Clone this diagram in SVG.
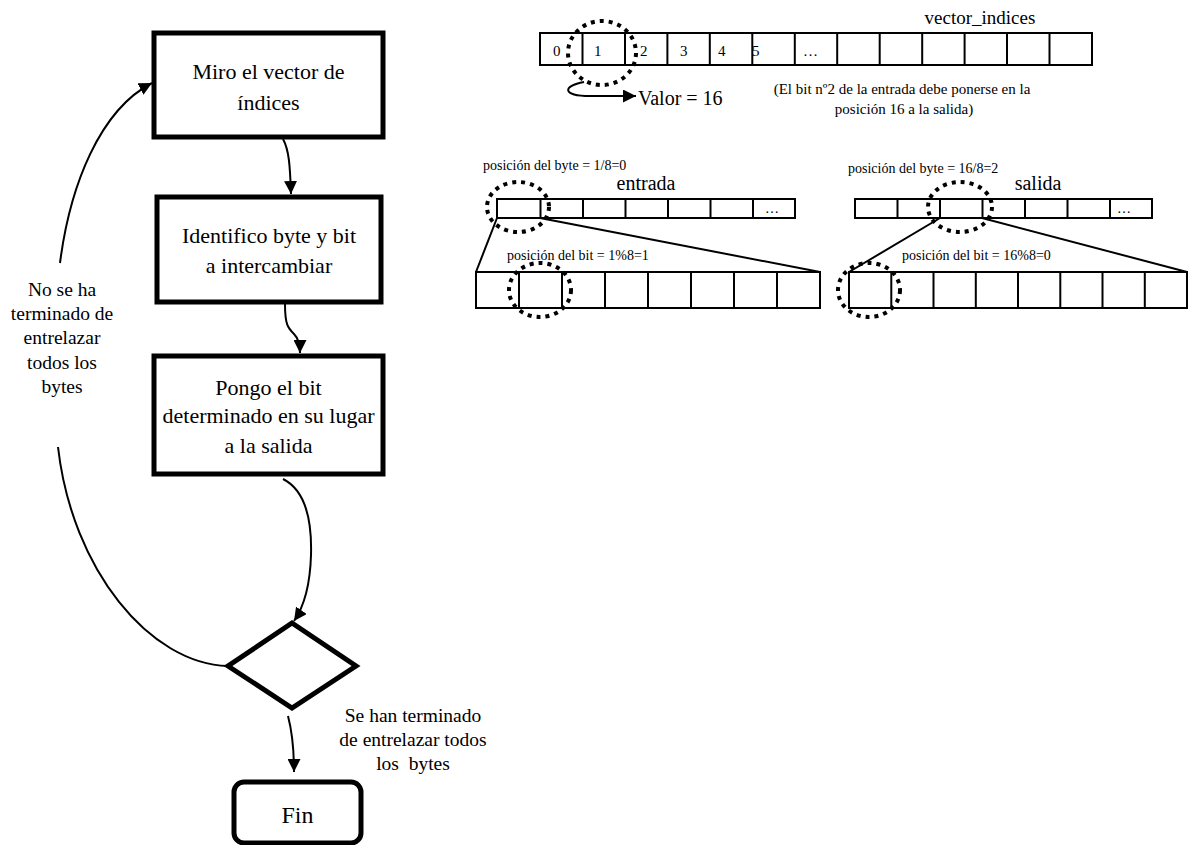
<svg xmlns="http://www.w3.org/2000/svg" width="1189" height="845" viewBox="0 0 1189 845" font-family="'Liberation Serif', 'Times New Roman', serif">
<defs>
<style>
text{font-family:"Liberation Serif","Times New Roman",serif;fill:#000}
.box{fill:#fff;stroke:#000;stroke-width:5}
.cell{fill:#fff;stroke:#000;stroke-width:2}
.con{fill:none;stroke:#000;stroke-width:2}
.dot{fill:none;stroke:#000;stroke-width:4;stroke-dasharray:4 5}
.big{font-size:22px;text-anchor:middle}
.lab{font-size:19.5px;text-anchor:middle}
.sm{font-size:14px}
</style>
<marker id="ah" viewBox="0 0 10 10" refX="10" refY="5" markerWidth="13" markerHeight="13" markerUnits="userSpaceOnUse" orient="auto">
<path d="M0,0 L10,5 L0,10 z" fill="#000"/>
</marker>
</defs>
<rect width="1189" height="845" fill="#fff"/>

<g id="connectors">
<path class="con" d="M283,139 C289,150 290,165 291,194" marker-end="url(#ah)"/>
<path class="con" d="M285,304 C285,325 288,328 294,334 C298,338 300,343 300,353" marker-end="url(#ah)"/>
<path class="con" d="M283,479 C305,490 312,520 311,555 C310,590 303,608 294,621" marker-end="url(#ah)"/>
<path class="con" d="M288,716 C293,735 294,750 294,772" marker-end="url(#ah)"/>
<path class="con" d="M228,666 C150,664 72,570 58,447"/>
<path class="con" d="M60,263 C70,185 100,110 152,83" marker-end="url(#ah)"/>
<path class="con" d="M584,82 C562,86 562,96 590,96 L636,96" marker-end="url(#ah)"/>
<path class="con" d="M497,218 L476,272"/>
<path class="con" d="M540,218 L820,272"/>
<path class="con" d="M940,218 L849,272"/>
<path class="con" d="M982,218 L1187,272"/>
</g>

<g id="n1">
<rect class="box" x="154" y="33" width="229" height="104"/>
<text class="big" x="268.5" y="79">Miro el vector de</text>
<text class="big" x="268.5" y="110">índices</text>
</g>
<g id="n2">
<rect class="box" x="157" y="197" width="224" height="105"/>
<text class="big" x="269" y="243">Identifico byte y bit</text>
<text class="big" x="269" y="273">a intercambiar</text>
</g>
<g id="n3">
<rect class="box" x="154" y="356" width="229" height="118"/>
<text class="big" x="268.5" y="395">Pongo el bit</text>
<text class="big" x="268.5" y="423">determinado en su lugar</text>
<text class="big" x="268.5" y="453">a la salida</text>
</g>
<g id="decision">
<path class="box" d="M292,623 L356,666 L292,708 L228,666 z"/>
</g>
<g id="fin">
<rect class="box" x="234" y="782" width="127" height="61" rx="10"/>
<text x="297.5" y="823" style="font-size:24px;text-anchor:middle">Fin</text>
</g>
<g id="label-loop">
<text class="lab" x="62" y="296">No se ha</text>
<text class="lab" x="62" y="320">terminado de</text>
<text class="lab" x="62" y="344">entrelazar</text>
<text class="lab" x="62" y="369">todos los</text>
<text class="lab" x="62" y="393">bytes</text>
</g>
<g id="label-end">
<text class="lab" x="413" y="722">Se han terminado</text>
<text class="lab" x="413" y="746">de entrelazar todos</text>
<text class="lab" x="413" y="770" xml:space="preserve">los  bytes</text>
</g>

<g id="vector_indices">
<rect class="cell" x="540" y="33" width="552" height="32"/>
<path class="con" d="M582.5,33V65M625,33V65M667.4,33V65M709.8,33V65M752.3,33V65M794.8,33V65M837.2,33V65M879.7,33V65M922.2,33V65M964.6,33V65M1007,33V65M1049.5,33V65"/>
<text x="553" y="56" style="font-size:15px">0</text>
<text x="594" y="56" style="font-size:15px">1</text>
<text x="640" y="56" style="font-size:15px">2</text>
<text x="680" y="56" style="font-size:15px">3</text>
<text x="718" y="56" style="font-size:15px">4</text>
<text x="752" y="56" style="font-size:15px">5</text>
<text x="803" y="56" style="font-size:15px">…</text>
<text x="980" y="24" style="font-size:19px;text-anchor:middle">vector_indices</text>
<ellipse class="dot" cx="602" cy="53" rx="34" ry="32"/>
<text x="638" y="105" style="font-size:20px">Valor = 16</text>
<text x="902" y="94" style="font-size:15px;text-anchor:middle">(El bit nº2 de la entrada debe ponerse en la</text>
<text x="904" y="114" style="font-size:15px;text-anchor:middle">posición 16 a la salida)</text>
</g>

<g id="entrada">
<text class="sm" x="483" y="170">posición del byte = 1/8=0</text>
<text x="646" y="190" style="font-size:20px;text-anchor:middle">entrada</text>
<rect class="cell" x="497" y="199" width="298" height="19"/>
<path class="con" d="M540.5,199V218M583,199V218M625.5,199V218M668,199V218M710.5,199V218M753,199V218"/>
<text class="sm" x="765" y="213">…</text>
<ellipse class="dot" cx="518" cy="207" rx="31" ry="25"/>
<text class="sm" x="507" y="260">posición del bit = 1%8=1</text>
<rect class="cell" x="476" y="272" width="344" height="36"/>
<path class="con" d="M519,272V308M562,272V308M605,272V308M648,272V308M691,272V308M734,272V308M777,272V308"/>
<ellipse class="dot" cx="540" cy="290" rx="31" ry="27"/>
</g>

<g id="salida">
<text class="sm" x="848" y="173">posición del byte = 16/8=2</text>
<text x="1038" y="190" style="font-size:20px;text-anchor:middle">salida</text>
<rect class="cell" x="855" y="199" width="297" height="19"/>
<path class="con" d="M897.5,199V218M940,199V218M982.5,199V218M1025,199V218M1067.5,199V218M1110,199V218"/>
<text class="sm" x="1117" y="213">…</text>
<ellipse class="dot" cx="960" cy="207" rx="32" ry="25"/>
<text class="sm" x="902" y="260">posición del bit = 16%8=0</text>
<rect class="cell" x="849" y="272" width="338" height="36"/>
<path class="con" d="M891.3,272V308M933.5,272V308M975.8,272V308M1018,272V308M1060.3,272V308M1102.5,272V308M1144.8,272V308"/>
<ellipse class="dot" cx="869" cy="290" rx="31" ry="27"/>
</g>
</svg>
